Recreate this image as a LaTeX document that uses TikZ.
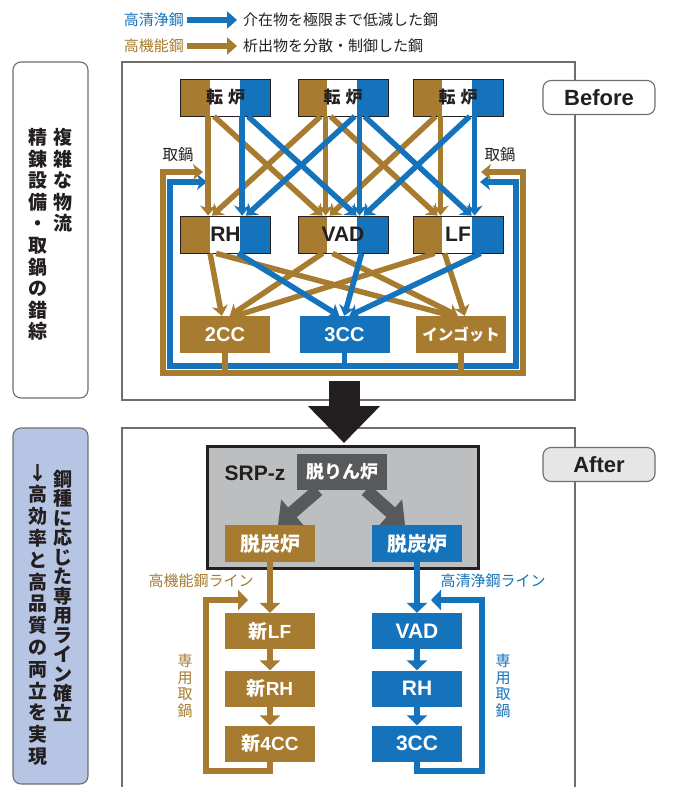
\documentclass[tikz,border=0pt]{standalone}
\usepackage{fontspec}
\setmainfont{Noto Sans CJK JP}
\newfontfamily\hvf{Liberation Sans}
\usetikzlibrary{arrows.meta}
\definecolor{brn}{RGB}{167,124,48}
\definecolor{blu}{RGB}{20,115,187}
\definecolor{dgr}{RGB}{88,89,91}
\definecolor{lgr}{RGB}{189,190,192}
\definecolor{lbl}{RGB}{183,197,228}
\definecolor{agr}{RGB}{230,230,230}
\definecolor{ink}{RGB}{35,31,32}
\definecolor{frm}{RGB}{110,110,110}
\newcommand\fsz[2]{\fontsize{#1}{#2}\selectfont}
\begin{document}
\begin{tikzpicture}[x=1pt,y=-1pt,
  panel/.style={draw=frm, line width=1.2pt, fill=white},
  side/.style={draw=frm, line width=1.1pt, rounded corners=8pt},
  tri/.style={draw=ink, line width=0.8pt, fill=white, minimum width=90pt, minimum height=37pt, inner sep=0pt, text=ink,
    path picture={\fill[brn] (path picture bounding box.south west) rectangle ([xshift=29pt]path picture bounding box.north west);
      \fill[blu] ([xshift=-31pt]path picture bounding box.south east) rectangle (path picture bounding box.north east);}},
  cnv/.style={tri, font=\fsz{17}{20}\bfseries},
  sec/.style={tri, font=\hvf\fsz{21}{24}\bfseries},
  ebox/.style={minimum width=90pt, minimum height=37pt, inner sep=0pt, text=white},
  elat/.style={ebox, font=\hvf\fsz{20}{24}\bfseries},
  fbox/.style={minimum width=90pt, minimum height=36pt, inner sep=0pt, text=white},
  flat/.style={fbox, font=\fsz{19}{22}\bfseries},
  sarr/.style={-{Stealth[length=10pt,width=16pt,inset=3pt]}},
  darr/.style={{Stealth[length=10pt,width=16pt,inset=3pt]}-{Stealth[length=10pt,width=16pt,inset=3pt]}},
  lb/.style={draw=brn, line width=5.5pt, sarr},
  lu/.style={draw=blu, line width=5.5pt, sarr},
  af/.style={line width=6pt, -{Triangle[length=10pt,width=20pt]}},
  garr/.style={draw=dgr, line width=13pt, -{Triangle[length=19pt,width=33pt]}},
  lab/.style={inner sep=0pt, font=\fsz{15}{18}},
  vcol/.style={anchor=north, align=center, inner sep=0pt, text=ink}
]
\useasboundingbox (0,0) rectangle (674,787);
\clip (0,0) rectangle (674,787);

% legend
\node[lab, anchor=east, text=blu] (lgA) at (184,20) {高清浄鋼};
\node[lab, anchor=west, text=ink] (ltA) at (243,20) {介在物を極限まで低減した鋼};
\draw[blu, line width=6pt, -{Triangle[length=10pt,width=17pt]}] ([xshift=3pt]lgA.east) -- ([xshift=-6pt]ltA.west);
\node[lab, anchor=east, text=brn] (lgB) at (184,46) {高機能鋼};
\node[lab, anchor=west, text=ink] (ltB) at (243,46) {析出物を分散・制御した鋼};
\draw[brn, line width=6pt, -{Triangle[length=10pt,width=17pt]}] ([xshift=3pt]lgB.east) -- ([xshift=-6pt]ltB.west);

% side labels
\draw[side, fill=white] (13,62) rectangle (88,398);
\node[vcol, font=\fsz{19}{21.6}\bfseries] (sbA) at (63,128) {複\\雑\\な\\物\\流};
\node[vcol, font=\fsz{19}{21.6}\bfseries] (sbB) at (38,128) {精\\錬\\設\\備\\・\\取\\鍋\\の\\錯\\綜};
\draw[side, fill=lbl] (13,428) rectangle (88,784);
\node[vcol, font=\fsz{19}{19.5}\bfseries] (saA) at (63,470) {鋼\\種\\に\\応\\じ\\た\\専\\用\\ラ\\イ\\ン\\確\\立};
\node[vcol, font=\fsz{19}{21.8}\bfseries] (saB) at (38,464) {↓\\高\\効\\率\\と\\高\\品\\質\\の\\両\\立\\を\\実\\現};

% ---------- Before panel ----------
\draw[panel] (122,62) rectangle (575,400);

\node[cnv] (c1) at (225.5,97.5) {転\hspace{5pt}炉};
\node[cnv] (c2) at (343,97.5) {転\hspace{5pt}炉};
\node[cnv] (c3) at (458,97.5) {転\hspace{5pt}炉};
\node[sec] (s1) at (225.5,234.5) {RH};
\node[sec] (s2) at (343,234.5) {VAD};
\node[sec] (s3) at (458,234.5) {LF};
\node[elat, fill=brn] (e1) at (225,334.5) {2CC};
\node[elat, fill=blu] (e2) at (344.5,334.5) {3CC};
\node[ebox, fill=brn, font=\fsz{15.5}{18}\bfseries] (e3) at (461,334.5) {インゴット};

\node[lab, font=\fsz{15.5}{18}, text=ink] (tk1) at (178,155) {取鍋};
\node[lab, font=\fsz{15.5}{18}, text=ink] (tk2) at (500,155) {取鍋};

% return loops
\coordinate (u1) at (207,182); \coordinate (u2) at (170,182); \coordinate (u3) at (170,366);
\coordinate (u4) at (516,366); \coordinate (u5) at (516,182); \coordinate (u6) at (480,182);
\draw[blu, line width=6pt, darr] (u1) -- (u2) -- (u3) -- (u4) -- (u5) -- (u6);
\draw[blu, line width=5.5pt] (e2.south) -- (e2.south |- u3);
\coordinate (r1) at (203,172); \coordinate (r2) at (163,172); \coordinate (r3) at (163,373);
\coordinate (r4) at (523,373); \coordinate (r5) at (523,172); \coordinate (r6) at (481,172);
\draw[brn, line width=6pt, darr] (r1) -- (r2) -- (r3) -- (r4) -- (r5) -- (r6);
\draw[brn, line width=5.5pt] (e1.south) -- (e1.south |- r3);
\draw[brn, line width=5.5pt] (e3.south) -- (e3.south |- r3);

% converters -> secondary refining (brown)
\draw[lb] ([xshift=28pt]c1.south west) -- ([xshift=28pt]s1.north west);
\draw[lb] ([xshift=34pt]c1.south west) -- ([xshift=25pt]s2.north west);
\draw[lb] ([xshift=23pt]c2.south west) -- ([xshift=32pt]s1.north west);
\draw[lb] ([xshift=28pt]c2.south west) -- ([xshift=28pt]s2.north west);
\draw[lb] ([xshift=33pt]c2.south west) -- ([xshift=25pt]s3.north west);
\draw[lb] ([xshift=23pt]c3.south west) -- ([xshift=32pt]s2.north west);
\draw[lb] ([xshift=28pt]c3.south west) -- ([xshift=28pt]s3.north west);
% blue
\draw[lu] ([xshift=62pt]c1.south west) -- ([xshift=62pt]s1.north west);
\draw[lu] ([xshift=68pt]c1.south west) -- ([xshift=59pt]s2.north west);
\draw[lu] ([xshift=57pt]c2.south west) -- ([xshift=66pt]s1.north west);
\draw[lu] ([xshift=62pt]c2.south west) -- ([xshift=62pt]s2.north west);
\draw[lu] ([xshift=67pt]c2.south west) -- ([xshift=59pt]s3.north west);
\draw[lu] ([xshift=57pt]c3.south west) -- ([xshift=66pt]s2.north west);
\draw[lu] ([xshift=62pt]c3.south west) -- ([xshift=62pt]s3.north west);

% secondary refining -> casting (brown)
\draw[lb] ([xshift=30pt]s1.south west) -- ([xshift=42pt]e1.north west);
\draw[lb] ([xshift=36pt]s1.south west) -- ([xshift=36pt]e3.north west);
\draw[lb] ([xshift=25pt]s2.south west) -- ([xshift=50pt]e1.north west);
\draw[lb] ([xshift=35pt]s2.south west) -- ([xshift=42pt]e3.north west);
\draw[lb] ([xshift=22pt]s3.south west) -- ([xshift=56pt]e1.north west);
\draw[lb] ([xshift=32pt]s3.south west) -- ([xshift=49pt]e3.north west);
% blue
\draw[lu] ([xshift=58pt]s1.south west) -- ([xshift=40pt]e2.north west);
\draw[lu] ([xshift=64pt]s2.south west) -- ([xshift=45pt]e2.north west);
\draw[lu] ([xshift=68pt]s3.south west) -- ([xshift=50pt]e2.north west);

% ---------- After panel ----------
\draw[panel] (122,428) rectangle (575,800);

\coordinate (ba1) at (344,381); \coordinate (ba2) at (344,443);
\draw[ink, line width=31pt, -{Triangle[length=37pt,width=70pt]}] (ba1) -- (ba2);

\node[draw=ink, line width=3pt, fill=lgr, minimum width=271pt, minimum height=122pt, inner sep=0pt] (srp) at (342.5,507) {};
\node[inner sep=0pt, font=\hvf\bfseries\fsz{21}{24}, text=ink] (srpl) at (255,473) {SRP-z};
\node[fbox, fill=dgr, font=\fsz{18}{21}\bfseries] (dp) at (342,472) {脱りん炉};
\node[flat, fill=brn, minimum height=37pt, font=\fsz{20}{23}\bfseries] (dcL) at (270,543.5) {脱炭炉};
\node[flat, fill=blu, minimum height=37pt, font=\fsz{20}{23}\bfseries] (dcR) at (417,543.5) {脱炭炉};
\draw[garr] ([xshift=-24pt]dp.south) -- ([xshift=8pt]dcL.north);
\draw[garr] ([xshift=24pt]dp.south) -- ([xshift=-12pt]dcR.north);

\node[flat, fill=brn] (nLF) at (270,631) {新\hvf LF};
\node[flat, fill=brn] (nRH) at (270,688.5) {新\hvf RH};
\node[flat, fill=brn] (n4C) at (270,743.5) {新\hvf 4CC};
\node[flat, fill=blu, font=\hvf\fsz{21}{24}\bfseries] (bVAD) at (417,631) {VAD};
\node[flat, fill=blu, font=\hvf\fsz{21}{24}\bfseries] (bRH) at (417,688.5) {RH};
\node[flat, fill=blu, font=\hvf\fsz{21}{24}\bfseries] (b3C) at (417,743.5) {3CC};

\draw[brn, af] (dcL.south) -- (nLF.north);
\draw[brn, af] (nLF.south) -- (nRH.north);
\draw[brn, af] (nRH.south) -- (n4C.north);
\draw[blu, af] (dcR.south) -- (bVAD.north);
\draw[blu, af] (bVAD.south) -- (bRH.north);
\draw[blu, af] (bRH.south) -- (b3C.north);

\coordinate (la) at (206,771); \coordinate (lb) at (206,600); \coordinate (lc) at (248,600);
\draw[brn, af] (n4C.south) -- (n4C.south |- la) -- (la) -- (lb) -- (lc);
\coordinate (ra) at (482,771); \coordinate (rb) at (482,600); \coordinate (rc) at (431,600);
\draw[blu, af] (b3C.south) -- (b3C.south |- ra) -- (ra) -- (rb) -- (rc);

\node[lab, text=brn] (lnA) at (201,581) {高機能鋼ライン};
\node[lab, text=blu] (lnB) at (493,581) {高清浄鋼ライン};
\node[align=center, inner sep=0pt, font=\fsz{15}{16.5}, text=brn] (syA) at (185,686) {専\\用\\取\\鍋};
\node[align=center, inner sep=0pt, font=\fsz{15}{16.5}, text=blu] (syB) at (503,686) {専\\用\\取\\鍋};

% Before / After tags
\node[side, fill=white, minimum width=112pt, minimum height=34pt, inner sep=0pt, font=\hvf\bfseries\fsz{22}{26}, text=ink] (bef) at (599,97.5) {Before};
\node[side, fill=agr, minimum width=112pt, minimum height=34pt, inner sep=0pt, font=\hvf\bfseries\fsz{22}{26}, text=ink] (aft) at (599,464.5) {After};
\end{tikzpicture}
\end{document}
